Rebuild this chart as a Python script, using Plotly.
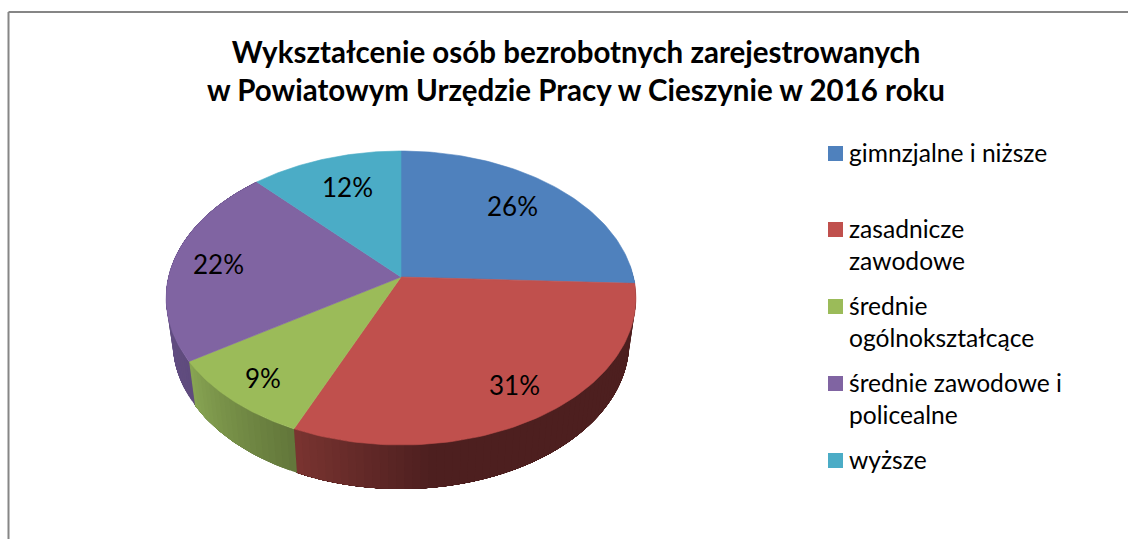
import math
import plotly.graph_objects as go

# ---- data ----
categories = ["gimnzjalne i niższe", "zasadnicze\nzawodowe", "średnie\nogólnokształcące",
              "średnie zawodowe i\npolicealne", "wyższe"]
shares = [25.7, 30.85, 9.35, 22.1, 12.0]
title_lines = ["Wykształcenie osób bezrobotnych zarejestrowanych",
               "w Powiatowym Urzędzie Pracy w Cieszynie w 2016 roku"]

# ---- style ----
FONT = "Lato"
top_colors = ["#4f81bd", "#c0504d", "#9bbb59", "#8064a2", "#4bacc6"]
wall_left = ["#3a5f8c", "#7a3431", "#88a553", "#6a558f", "#3b8396"]   # colour at the screen-left end of a slice wall
wall_right = ["#2c4a6e", "#4d1f1f", "#62763a", "#5f4b7d", "#2f6a7a"]  # colour towards the screen-right end
wall_fade = [1.0, 0.27, 1.0, 1.0, 1.0]   # part of the slice, from its left end, over which the colour changes
label_radius = [0.72, 0.83, 0.83, 0.80, 0.73]
label_nudge = [(-1, -4), (0, -5), (0, 1), (0, 1), (3, -1)]

# pie projection (pixel-space axes)
CX, CY, R, A, K = 401.0, 277.0, 232.5, 144.0, -1 / 7
DEPTH, BOTTOM_SCALE = 44.0, 0.972


def project(theta, f=1.0, bottom=False):
    u, v = f * math.sin(theta), -f * math.cos(theta)
    d = 1 + K * v
    s = BOTTOM_SCALE if bottom else 1.0
    return CX + s * R * u / d, CY + A * v / d + (DEPTH if bottom else 0.0)


def mix(c1, c2, t):
    a = [int(c1[i:i + 2], 16) for i in (1, 3, 5)]
    b = [int(c2[i:i + 2], 16) for i in (1, 3, 5)]
    return "rgb(%d,%d,%d)" % tuple(round(p + (q - p) * t) for p, q in zip(a, b))


total = sum(shares)
edges = [0.0]
for s in shares:
    edges.append(edges[-1] + s / total * 2 * math.pi)

fig = go.Figure()


def poly(xs, ys, color, width=0.6):
    fig.add_trace(go.Scatter(x=xs, y=ys, mode="lines", fill="toself", fillcolor=color,
                             line=dict(color=color, width=width), hoverinfo="skip", showlegend=False))


# walls: each band runs to the end of its slice and the next one paints over it, so no seams show
for i, name in enumerate(categories):
    t0, t1 = edges[i], edges[i + 1]
    n = max(2, int((t1 - t0) / 0.03))
    for j in range(n):
        a0 = t0 + (t1 - t0) * j / n
        a1 = t0 + (t1 - t0) * (j + 1) / n
        if -math.cos(a0) < -0.05 and -math.cos(a1) < -0.05:
            continue
        frac_from_left = (t1 - (a0 + a1) / 2) / (t1 - t0)
        tt = min(1.0, frac_from_left / wall_fade[i])
        arc = [a0 + (t1 - a0) * m / 30 for m in range(31)]
        p = [project(a) for a in arc] + [project(a, bottom=True) for a in reversed(arc)]
        poly([q[0] for q in p], [q[1] for q in p], mix(wall_left[i], wall_right[i], tt), width=0)

# top faces
for i, name in enumerate(categories):
    t0, t1 = edges[i], edges[i + 1]
    n = 80
    pts = [project(t0 + (t1 - t0) * j / n) for j in range(n + 1)]
    xs = [CX] + [q[0] for q in pts] + [CX]
    ys = [CY] + [q[1] for q in pts] + [CY]
    poly(xs, ys, top_colors[i])

annotations = []
# slice labels
for i, s in enumerate(shares):
    x, y = project((edges[i] + edges[i + 1]) / 2, label_radius[i])
    annotations.append(dict(x=x + label_nudge[i][0], y=y + label_nudge[i][1], text="%d%%" % round(s),
                            showarrow=False, xanchor="center", yanchor="middle",
                            font=dict(family=FONT, size=26, color="#000000")))

# legend
legend_y = [153.5, 229.5, 306.5, 383.5, 460.5]
LINE_GAP = 32
for i, name in enumerate(categories):
    fig.add_trace(go.Scatter(x=[835.5], y=[legend_y[i]], mode="markers",
                             marker=dict(symbol="square", size=15, color=top_colors[i]),
                             hoverinfo="skip", showlegend=False))
    for k, line in enumerate(name.split("\n")):
        annotations.append(dict(x=847, y=legend_y[i] + k * LINE_GAP - 1, text=line, showarrow=False,
                                xanchor="left", yanchor="middle",
                                font=dict(family=FONT, size=24.6, color="#000000")))

# title
fig.update_layout(title=dict(text="<b>" + "<br>".join(title_lines) + "</b>", x=576 / 1128, xanchor="center",
                             y=1 - 62.5 / 539, yanchor="middle",
                             font=dict(family=FONT, size=29.5, color="#000000")))

# border
shapes = [dict(type="line", xref="x", yref="y", x0=8.5, x1=8.5, y0=539, y1=12,
               line=dict(color="#868686", width=2)),
          dict(type="line", xref="x", yref="y", x0=8.5, x1=1128, y0=12, y1=12,
               line=dict(color="#868686", width=2))]

fig.update_layout(width=1128, height=539, margin=dict(l=0, r=0, t=0, b=0),
                  paper_bgcolor="#ffffff", plot_bgcolor="#ffffff",
                  xaxis=dict(range=[0, 1128], visible=False, fixedrange=True),
                  yaxis=dict(range=[539, 0], visible=False, fixedrange=True),
                  annotations=annotations, shapes=shapes, showlegend=False)

fig.write_html("out.html", config=dict(displayModeBar=False),
               post_script="document.body.style.margin='0';document.body.style.overflow='hidden';")
